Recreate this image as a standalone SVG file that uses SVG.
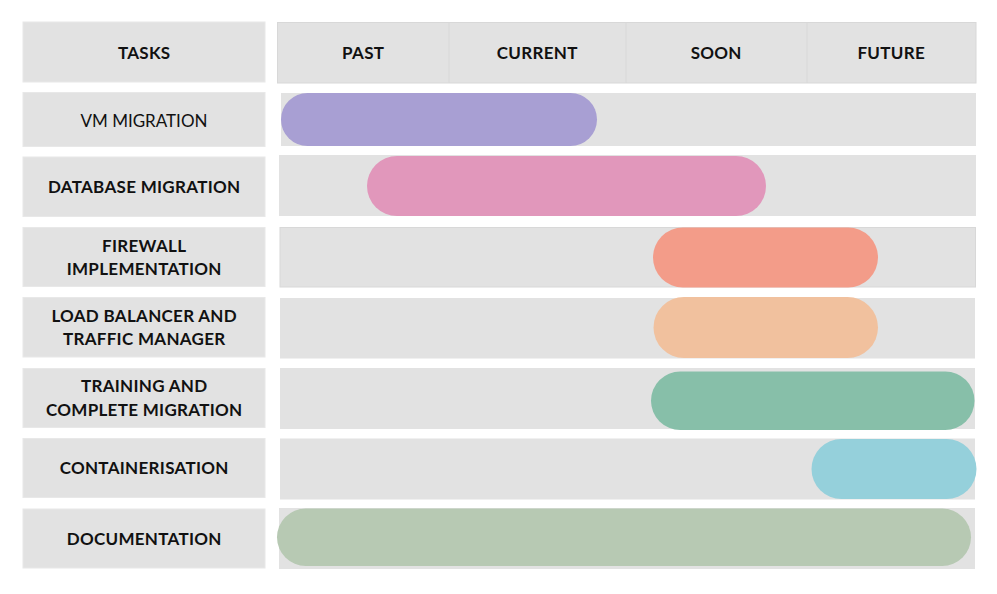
<svg xmlns="http://www.w3.org/2000/svg" width="997" height="594" viewBox="0 0 997 594">
<style>
.cell{fill:#e2e2e2;stroke:#e8e8e8;stroke-width:1}
.lane{fill:#e2e2e2}
.div{stroke:#d8d8d8;stroke-width:1}
.t{font-family:Lato,"Noto Sans",sans-serif;font-size:17px;font-weight:700;fill:#111;text-anchor:middle;letter-spacing:0.3px}
.r{font-weight:400;letter-spacing:0px}
</style>
<rect width="997" height="594" fill="#fff"/>
<g id="header">
<rect class="cell" x="23" y="22" width="242" height="60"/>
<text class="t" x="144.2" y="58.5">TASKS</text>
<rect x="277.5" y="22.5" width="698.5" height="60.5" fill="#e2e2e2" stroke="#d8d8d8"/>
<line class="div" x1="449" y1="23" x2="449" y2="83"/>
<line class="div" x1="626" y1="23" x2="626" y2="83"/>
<line class="div" x1="807" y1="23" x2="807" y2="83"/>
<text class="t" x="363.2" y="59">PAST</text>
<text class="t" x="537.2" y="59">CURRENT</text>
<text class="t" x="716.2" y="59">SOON</text>
<text class="t" x="891.2" y="59">FUTURE</text>
</g>
<g id="row-vm">
<rect class="cell" x="23" y="92.5" width="242" height="54"/>
<text class="t r" x="144" y="126.5">VM MIGRATION</text>
<rect class="lane" x="281" y="93" width="695" height="53"/>
<rect x="281" y="93" width="316" height="53" rx="26.5" fill="#a89fd3"/>
</g>
<g id="row-db">
<rect class="cell" x="23" y="157" width="242" height="59.5"/>
<text class="t" x="144.2" y="193.3">DATABASE MIGRATION</text>
<rect class="lane" x="279" y="155" width="697" height="61"/>
<rect x="367" y="156" width="399" height="60" rx="30" fill="#e197bb"/>
</g>
<g id="row-firewall">
<rect class="cell" x="23" y="227.5" width="242" height="59"/>
<text class="t" x="144.2" y="252.3">FIREWALL</text>
<text class="t" x="144.2" y="275.3">IMPLEMENTATION</text>
<rect x="280" y="227.5" width="695.5" height="59.5" fill="#e2e2e2" stroke="#d8d8d8" stroke-width="1"/>
<rect x="653" y="227.5" width="225" height="60" rx="30" fill="#f39c89"/>
</g>
<g id="row-lb">
<rect class="cell" x="23" y="297.5" width="242" height="59.5"/>
<text class="t" x="144.2" y="322.3">LOAD BALANCER AND</text>
<text class="t" x="144.2" y="345.3">TRAFFIC MANAGER</text>
<rect class="lane" x="280" y="298" width="695" height="60.5"/>
<rect x="653.5" y="297" width="224.5" height="61" rx="30.5" fill="#f1c19e"/>
</g>
<g id="row-training">
<rect class="cell" x="23" y="368.5" width="242" height="59"/>
<text class="t" x="144.2" y="392.3">TRAINING AND</text>
<text class="t" x="144.2" y="416">COMPLETE MIGRATION</text>
<rect class="lane" x="280" y="368" width="695" height="61"/>
<rect x="651" y="371.5" width="323.5" height="58.5" rx="29.25" fill="#87bfa9"/>
</g>
<g id="row-containerisation">
<rect class="cell" x="23" y="438.5" width="242" height="59"/>
<text class="t" x="144.2" y="474.3">CONTAINERISATION</text>
<rect class="lane" x="280" y="438.5" width="695" height="61"/>
<rect x="811.5" y="439" width="165" height="60" rx="30" fill="#95d0db"/>
</g>
<g id="row-documentation">
<rect class="cell" x="23" y="509" width="242" height="59"/>
<text class="t" x="144.2" y="545">DOCUMENTATION</text>
<rect class="lane" x="279" y="508" width="696" height="61"/>
<rect x="277" y="508.5" width="694" height="57.5" rx="28.75" fill="#b7c9b3"/>
</g>
<g id="connectors"></g>
</svg>
